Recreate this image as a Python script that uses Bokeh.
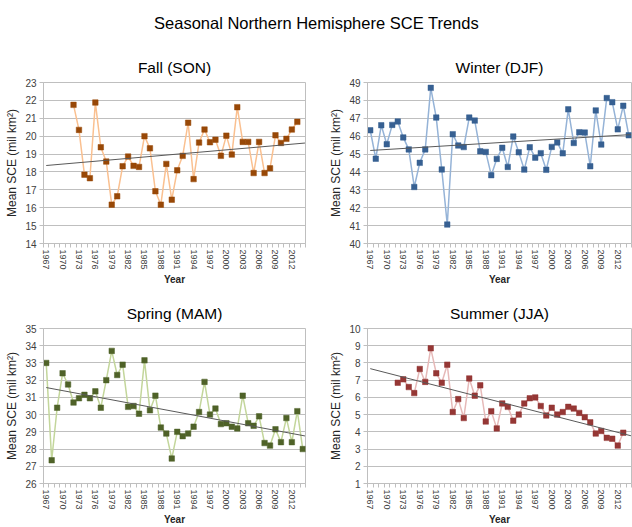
import numpy as np
from bokeh.plotting import figure
from bokeh.layouts import column, row
from bokeh.models import Range1d, FixedTicker, ColumnDataSource
from bokeh.core.properties import value
from bokeh.embed import file_html
from bokeh.resources import INLINE

FONT = "Liberation Sans"

main_title = "Seasonal Northern Hemisphere SCE Trends"
x_tick_years = list(range(1967, 2013, 3))
category_years = list(range(1967, 2015))

fall_years = list(range(1972, 2014))
fall_sce = [21.75, 20.35, 17.85, 17.65, 21.88, 19.38, 18.58, 16.17, 16.64, 18.32,
            18.86, 18.34, 18.28, 20.0, 19.32, 16.92, 16.17, 18.45, 16.45, 18.09,
            18.9, 20.75, 17.6, 19.64, 20.37, 19.66, 19.8, 18.9, 20.03, 18.97,
            21.62, 19.68, 19.68, 17.94, 19.68, 17.94, 18.2, 20.05, 19.62, 19.85,
            20.37, 20.8]

winter_years = list(range(1967, 2015))
winter_sce = [46.33, 44.74, 46.61, 45.55, 46.63, 46.82, 45.93, 45.26, 43.16, 44.51,
              45.26, 48.7, 47.04, 44.14, 41.06, 46.11, 45.48, 45.39, 47.04, 46.87,
              45.15, 45.12, 43.82, 44.73, 45.35, 44.28, 45.98, 45.1, 44.13, 45.38,
              44.8, 45.05, 44.12, 45.4, 45.65, 45.04, 47.5, 45.62, 46.22, 46.2,
              44.32, 47.44, 45.53, 48.13, 47.9, 46.38, 47.7, 46.05]

spring_years = list(range(1967, 2015))
spring_sce = [33.0, 27.35, 30.4, 32.4, 31.75, 30.7, 30.95, 31.15, 30.95, 31.35,
              30.4, 32.0, 33.7, 32.3, 32.9, 30.45, 30.5, 30.05, 33.15, 30.25,
              31.1, 29.25, 28.9, 27.45, 29.0, 28.75, 28.9, 29.3, 30.15, 31.9,
              30.0, 30.35, 29.45, 29.5, 29.3, 29.2, 31.1, 29.5, 29.35, 29.9,
              28.35, 28.2, 29.15, 28.4, 29.8, 28.4, 30.2, 28.0]

summer_years = list(range(1972, 2014))
summer_sce = [6.85, 7.05, 6.6, 6.25, 7.65, 6.9, 8.85, 7.4, 6.85, 7.9,
              5.15, 5.9, 4.8, 7.1, 6.1, 6.7, 4.6, 5.2, 4.2, 5.65,
              5.45, 4.65, 5.0, 5.65, 5.95, 6.0, 5.5, 4.95, 5.4, 5.0,
              5.15, 5.45, 5.35, 5.1, 4.85, 4.55, 3.9, 4.05, 3.65, 3.6,
              3.2, 3.95]

panels = [
    dict(title="Fall (SON)", years=fall_years, vals=fall_sce, yr=(14, 23),
         line="#fac090", marker="#984807"),
    dict(title="Winter (DJF)", years=winter_years, vals=winter_sce, yr=(40, 49),
         line="#95b3d7", marker="#376092"),
    dict(title="Spring (MAM)", years=spring_years, vals=spring_sce, yr=(26, 35),
         line="#c3d69b", marker="#4f6228"),
    dict(title="Summer (JJA)", years=summer_years, vals=summer_sce, yr=(1, 10),
         line="#e6b9b8", marker="#953735"),
]

GRID = "#bfbfbf"
TICK_TXT = "#404040"


def make_panel(cfg, width, height, bl, br, bt, bb):
    p = figure(width=width, height=height, output_backend="svg", toolbar_location=None,
               x_range=Range1d(category_years[0] - 0.5, category_years[-1] + 0.5),
               y_range=Range1d(*cfg["yr"]),
               min_border_left=bl, min_border_right=br, min_border_top=bt,
               min_border_bottom=bb)
    p.title.text = cfg["title"]
    p.title.align = "center"
    p.title.text_font = FONT
    p.title.text_font_size = "15.5px"
    p.title.text_font_style = "normal"
    p.title.text_color = "#000000"
    p.title.standoff = 14
    p.outline_line_color = GRID
    p.background_fill_color = "white"
    p.border_fill_color = "white"
    p.xgrid.grid_line_color = None
    p.ygrid.grid_line_color = GRID
    p.ygrid.grid_line_width = 1

    yt = list(range(cfg["yr"][0], cfg["yr"][1] + 1))
    p.yaxis.ticker = FixedTicker(ticks=yt)
    p.yaxis.minor_tick_line_color = None
    p.yaxis.major_tick_in = 0
    p.yaxis.major_tick_out = 4
    p.yaxis.major_tick_line_color = GRID
    p.yaxis.axis_line_color = GRID
    p.yaxis.major_label_text_font = FONT
    p.yaxis.major_label_text_font_size = "10px"
    p.yaxis.major_label_text_color = TICK_TXT
    p.yaxis.major_label_standoff = 3
    p.yaxis.axis_label = "Mean SCE (mil km\u00b2)"
    p.yaxis.axis_label_text_font = FONT
    p.yaxis.axis_label_text_font_size = "12px"
    p.yaxis.axis_label_text_font_style = "normal"
    p.yaxis.axis_label_text_color = "#262626"
    p.yaxis.axis_label_standoff = 3

    p.xaxis.ticker = FixedTicker(ticks=x_tick_years,
                                 minor_ticks=[y - 0.5 for y in category_years] + [category_years[-1] + 0.5])
    p.xaxis.major_label_orientation = "vertical"
    p.xaxis.major_tick_line_color = None
    p.xaxis.major_tick_out = 4
    p.xaxis.major_tick_in = 0
    p.xaxis.minor_tick_line_color = GRID
    p.xaxis.minor_tick_out = 4
    p.xaxis.minor_tick_in = 0
    p.xaxis.axis_line_color = GRID
    p.xaxis.major_label_text_font = FONT
    p.xaxis.major_label_text_font_size = "9px"
    p.xaxis.major_label_text_color = TICK_TXT
    p.xaxis.major_label_standoff = 2
    p.xaxis.axis_label = "Year"
    p.xaxis.axis_label_text_font = FONT
    p.xaxis.axis_label_text_font_size = "10px"
    p.xaxis.axis_label_text_font_style = "bold"
    p.xaxis.axis_label_text_color = "#262626"
    p.xaxis.axis_label_standoff = 1

    src = ColumnDataSource(dict(x=cfg["years"], y=cfg["vals"]))
    p.line("x", "y", source=src, line_color=cfg["line"], line_width=1.5)
    p.scatter("x", "y", source=src, marker="square", size=5.5,
              fill_color=cfg["marker"], line_color=cfg["marker"], line_width=0.5)

    # linear trend line fitted to the data
    xs = np.array(cfg["years"], dtype=float)
    ys = np.array(cfg["vals"], dtype=float)
    k, b = np.polyfit(xs, ys, 1)
    tx = np.array([category_years[0], category_years[-1] + 0.4])
    p.line(tx, k * tx + b, line_color="#595959", line_width=1)
    return p


TOTAL_W = 632
LEFT_W = 316
RIGHT_W = TOTAL_W - LEFT_W

title_h = 44
tp = figure(width=TOTAL_W, height=title_h, output_backend="svg", toolbar_location=None,
            x_range=Range1d(0, TOTAL_W), y_range=Range1d(0, title_h),
            x_axis_type=None, y_axis_type=None,
            min_border_left=0, min_border_right=0, min_border_top=0, min_border_bottom=0)
tp.outline_line_color = None
tp.grid.grid_line_color = None
tp.text(x=[316], y=[title_h - 22], text=[main_title], text_font=value(FONT),
        text_font_size="16.5px", text_align="center", text_baseline="middle",
        text_color="#000000")

fall = make_panel(panels[0], LEFT_W, 244, 43, 11, 38, 45)
winter = make_panel(panels[1], RIGHT_W, 244, 51, 1, 38, 45)
spring = make_panel(panels[2], LEFT_W, 239, 43, 11, 40, 37)
summer = make_panel(panels[3], RIGHT_W, 239, 51, 1, 40, 37)

layout = column(tp, row(fall, winter), row(spring, summer))

open("out.html", "w").write(file_html(layout, INLINE))
